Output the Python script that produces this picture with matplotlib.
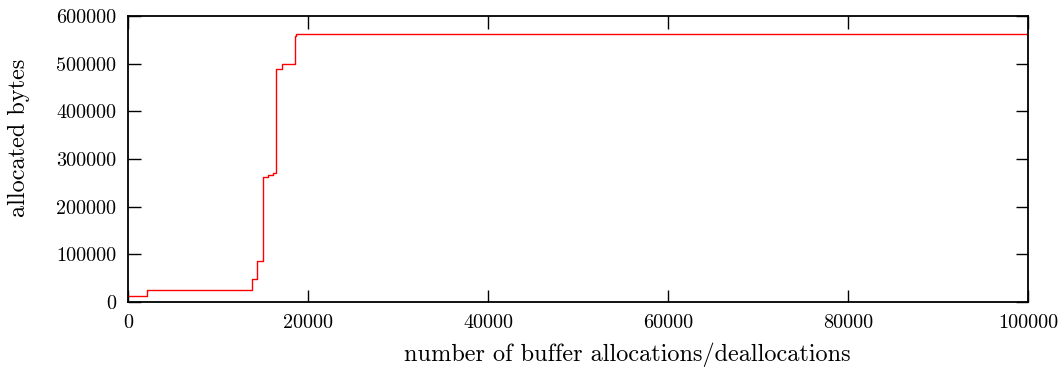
import matplotlib
matplotlib.use("Agg")
import matplotlib.pyplot as plt

# Step profile of allocated bytes over the allocation/deallocation sequence
event_index = [0, 2150, 13740, 14370, 15040, 15520, 16070, 16440, 17150, 18560, 18700, 100000]
allocated_bytes = [12000, 24500, 48900, 86000, 262700, 266000, 269800, 488500, 499000, 557000, 562000, 562000]

x_ticks = [0, 20000, 40000, 60000, 80000, 100000]
y_ticks = [0, 100000, 200000, 300000, 400000, 500000, 600000]

plt.rcParams["font.family"] = ["cmr10", "DejaVu Serif"]
plt.rcParams["axes.formatter.use_mathtext"] = True

W, H = 1062, 368
fig = plt.figure(figsize=(W / 100, H / 100), dpi=100)
ax = fig.add_axes([128 / W, 66 / H, 900 / W, 286 / H])

ax.plot(event_index, allocated_bytes, drawstyle="steps-post", color="#ff0000", linewidth=1.0)

ax.set_xlim(0, 100000)
ax.set_ylim(0, 600000)
ax.set_xticks(x_ticks)
ax.set_xticklabels([str(v) for v in x_ticks])
ax.set_yticks(y_ticks)
ax.set_yticklabels([str(v) for v in y_ticks])

ax.tick_params(direction="in", length=9, width=1.0, top=True, right=True,
               labelsize=14.5, pad=8.5)
for spine in ax.spines.values():
    spine.set_linewidth(1.3)

fig.text(627 / W, 7 / H, "number of buffer allocations/deallocations",
         fontsize=17.5, ha="center", va="baseline")
fig.text(25 / W, 230.5 / H, "allocated bytes", fontsize=17.5, rotation=90,
         rotation_mode="anchor", ha="center", va="baseline")

fig.savefig("out.png", dpi=100)
